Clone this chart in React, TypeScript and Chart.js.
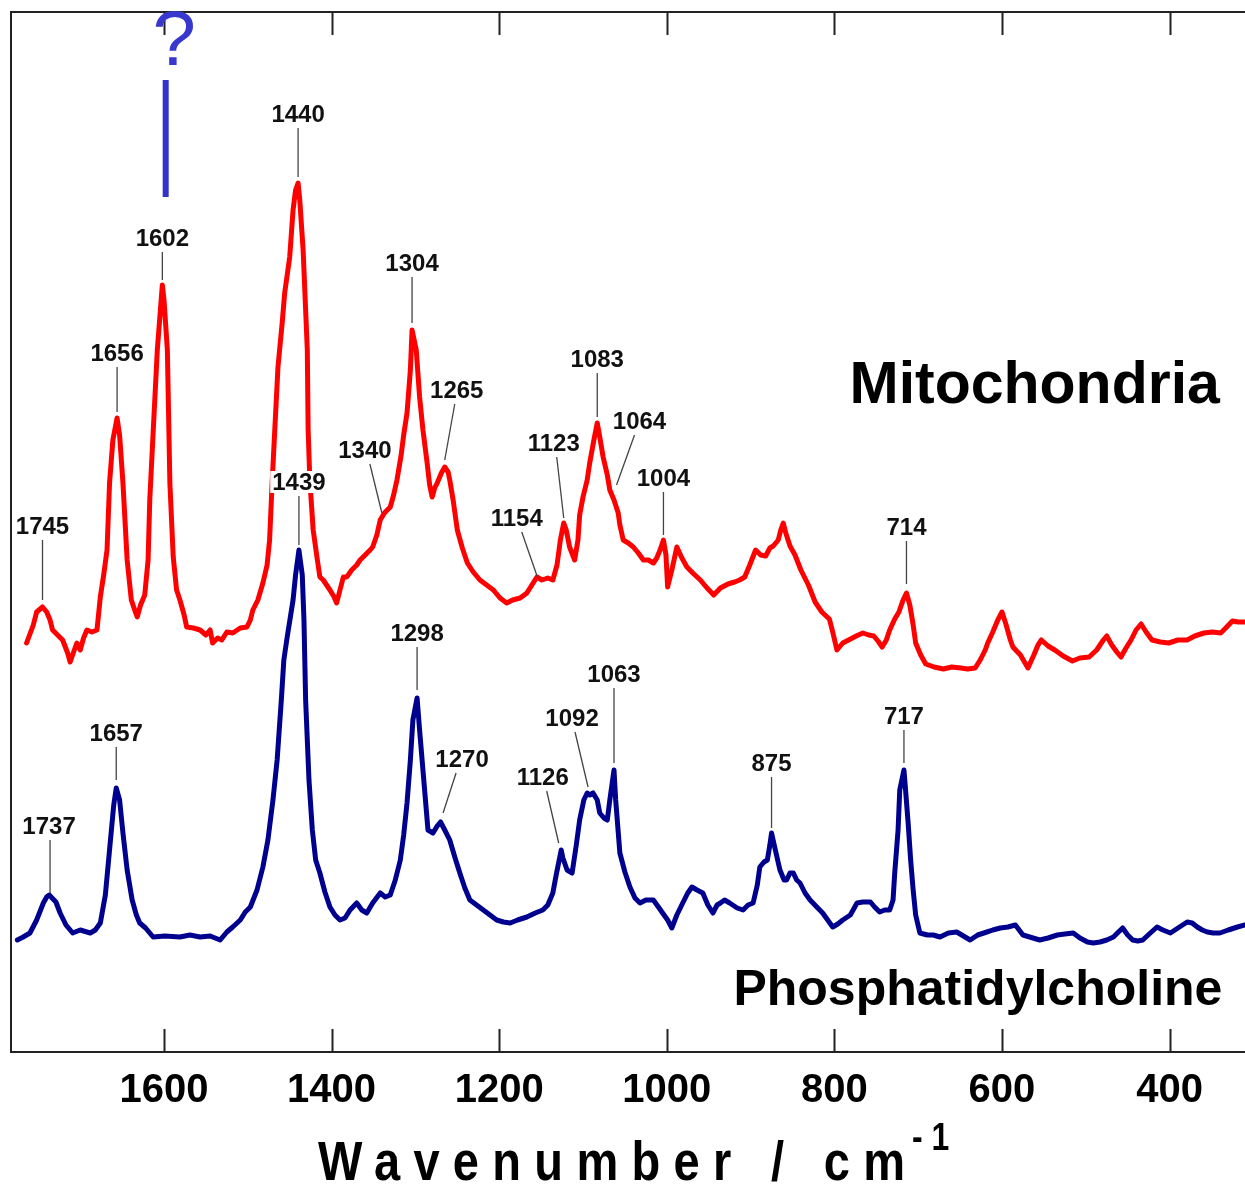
import React, { useEffect, useRef } from 'react';
import { Chart, registerables } from 'chart.js';

Chart.register(...registerables);

// ---------- Data (wavenumber in cm-1, intensity in arbitrary units) ----------
const RED_WN = [1764,1756,1752,1745,1740,1736,1733,1727,1721,1715,1712,1707,1704,1700,1696,1692,1686,1680,1676,1672,1668,1665,1661,1656,1653,1649,1644,1639,1635,1632,1628,1623,1619,1617,1613,1608,1602,1600,1596,1593,1589,1585,1581,1576,1573,1565,1557,1550,1545,1542,1536,1531,1525,1518,1509,1501,1497,1494,1488,1482,1477,1474,1471,1468,1464,1459,1456,1450,1446,1443,1440,1438,1434,1429,1428,1426,1422,1417,1414,1410,1406,1402,1397,1394,1390,1386,1382,1376,1370,1366,1360,1354,1351,1346,1342,1337,1330,1326,1322,1317,1314,1310,1306,1304,1299,1295,1291,1286,1283,1280,1277,1274,1269,1265,1261,1259,1255,1250,1244,1238,1231,1223,1215,1207,1199,1191,1184,1175,1167,1161,1155,1149,1142,1136,1131,1127,1123,1120,1116,1110,1106,1104,1100,1095,1092,1087,1083,1080,1076,1071,1068,1063,1058,1056,1052,1046,1040,1034,1028,1022,1016,1012,1008,1004,1001,999,994,988,982,976,969,960,952,944,936,927,919,913,907,901,894,888,882,877,873,867,864,861,858,853,847,840,831,823,815,806,802,797,790,783,774,766,759,753,748,743,738,734,728,723,718,714,710,706,703,697,691,681,670,660,649,641,632,626,620,617,611,605,600,595,590,587,578,569,562,557,553,545,537,527,516,507,496,487,479,475,469,463,458,452,446,440,434,428,421,411,401,390,379,370,359,349,339,333,325,318,310];
const RED_I = [409,427,440,445,440,432,422,417,412,399,390,402,409,402,414,422,420,422,455,477,502,569,612,634,617,569,492,452,442,435,447,457,492,552,619,702,767,752,702,569,495,462,452,437,425,424,422,417,422,409,414,412,420,419,424,425,432,442,452,469,487,512,569,619,685,729,759,795,842,862,869,852,802,702,622,572,522,492,475,472,467,462,455,449,462,475,475,482,487,492,497,502,505,517,532,539,545,557,572,597,617,639,682,722,702,655,622,589,567,555,564,569,579,585,580,572,552,522,504,489,480,472,467,462,454,449,452,454,459,467,475,472,474,472,487,512,529,522,505,492,512,537,555,572,589,612,629,615,595,577,562,552,539,527,512,509,505,499,492,492,489,494,502,512,497,465,482,505,494,485,479,472,464,457,464,468,470,472,475,487,502,497,496,504,506,512,522,529,519,506,497,482,467,450,440,433,420,402,409,412,416,419,417,416,411,405,412,422,433,440,452,459,447,427,409,397,388,385,383,385,384,383,384,392,402,409,420,432,440,427,412,405,397,384,397,407,412,406,402,396,391,394,395,402,412,416,407,400,395,404,412,422,428,420,412,410,409,412,412,416,419,420,419,424,431,430,430];

const BLUE_WN = [1775,1768,1760,1752,1744,1740,1737,1729,1724,1717,1709,1700,1688,1682,1676,1670,1665,1660,1657,1653,1649,1644,1638,1633,1629,1622,1613,1599,1581,1569,1557,1545,1533,1525,1518,1509,1503,1497,1489,1482,1476,1470,1465,1460,1457,1453,1446,1443,1439,1435,1433,1431,1427,1423,1419,1414,1408,1402,1396,1390,1384,1378,1370,1364,1358,1351,1342,1336,1330,1324,1318,1314,1310,1306,1303,1298,1295,1291,1287,1285,1279,1274,1270,1265,1259,1253,1247,1241,1235,1227,1219,1211,1203,1195,1187,1178,1167,1157,1148,1142,1136,1132,1126,1124,1119,1113,1108,1104,1099,1095,1092,1088,1083,1080,1075,1071,1068,1063,1061,1056,1050,1044,1038,1032,1025,1016,1010,1005,999,994,988,981,975,970,964,957,951,945,940,936,931,925,916,909,903,897,892,889,884,880,877,875,871,865,860,857,853,849,845,841,835,829,821,814,808,802,796,790,781,773,766,757,752,746,740,734,730,728,724,722,717,716,712,709,706,703,698,689,682,674,664,654,646,638,629,618,611,602,593,584,575,567,555,545,534,525,515,507,498,491,483,475,467,461,456,450,444,438,432,423,415,408,399,390,379,373,367,361,355,348,340,330,319,310];
const BLUE_I = [112,115,119,132,149,155,157,150,139,127,119,122,119,122,129,157,202,247,264,252,219,182,152,137,129,124,115,116,115,117,115,116,112,120,125,132,140,145,162,185,212,252,292,352,392,415,452,477,502,477,432,352,272,222,192,179,160,145,137,132,134,142,149,142,139,149,159,155,157,172,192,217,249,292,332,354,322,282,242,222,219,226,230,222,212,195,179,164,152,147,142,137,132,130,129,132,135,139,142,147,159,177,202,194,182,179,207,232,252,259,257,259,252,239,234,232,252,282,252,199,180,165,154,149,152,152,145,139,132,124,137,149,159,165,162,159,147,139,147,149,152,149,144,142,147,149,167,185,190,192,207,219,204,182,172,172,179,179,172,169,159,152,145,139,132,125,128,132,137,149,150,150,145,140,142,142,152,179,222,262,282,272,229,192,162,137,119,117,117,115,119,120,116,112,117,120,122,124,125,127,117,115,112,114,117,118,119,114,110,109,110,112,115,120,124,117,112,111,112,119,125,122,119,124,130,129,125,122,120,119,119,122,125,127];

const X_TICKS = [1600, 1400, 1200, 1000, 800, 600, 400];

const RED_PEAK_TEXT = ['1745', '1656', '1602', '1440', '1340', '1304', '1265', '1154', '1123', '1083', '1064', '1004', '714'];
const RED_PEAK_WN = [1745, 1656, 1602, 1440, 1340, 1304, 1265, 1154, 1123, 1083, 1060, 1004, 714];
const RED_PEAK_I = [452, 640, 772, 875, 539, 729, 592, 474, 534, 635, 567, 517, 468];

const BLUE_PEAK_TEXT = ['1737', '1657', '1439', '1298', '1270', '1126', '1092', '1063', '875', '717'];
const BLUE_PEAK_WN = [1736, 1657, 1439, 1298, 1267, 1129, 1094, 1063, 875, 717];
const BLUE_PEAK_I = [159, 272, 507, 362, 239, 209, 265, 289, 224, 289];

// ---------- Layout / style (pixel offsets of label leaders) ----------
const RED_LABEL_OFFSETS = [[0, -60, 0], [0, -45, 0], [0, -28, 0], [0, -49, 0], [-12, -49, -5], [0, -46, 0], [10, -56, 2], [-16, -46, -5], [-7, -61, -3], [0, -44, 0], [18, -50, 5], [0, -43, 0], [0, -43, 0]];
const BLUE_LABEL_OFFSETS = [[0, -53, -1], [0, -33, 0], [0, -49, 0], [0, -43, 0], [13, -40, 6], [-12, -52, -4], [-13, -55, -3], [0, -75, 0], [0, -51, 0], [0, -33, 0]];

const SANS = '"Liberation Sans", Arial, Helvetica, sans-serif';

const MARK_WN = 1598;
const MARK_I = [972, 855];
const QMARK_WN = 1588;
const QMARK_I = 987;

const decorPlugin = {
  id: 'decor',
  beforeDatasetsDraw(chart: any) {
    const { ctx, chartArea: a, scales } = chart;
    const x = scales.x;
    ctx.save();
    ctx.strokeStyle = '#222';
    ctx.lineWidth = 2;
    ctx.beginPath();
    ctx.moveTo(a.left, a.top);
    ctx.lineTo(a.right + 2, a.top);
    ctx.moveTo(a.left, a.top - 1);
    ctx.lineTo(a.left, a.bottom + 1);
    ctx.moveTo(a.left - 1, a.bottom);
    ctx.lineTo(a.right + 2, a.bottom);
    for (const t of x.ticks) {
      const px = Math.round(x.getPixelForValue(t.value)) + 0.5;
      ctx.moveTo(px, a.top);
      ctx.lineTo(px, a.top + 23);
      ctx.moveTo(px, a.bottom);
      ctx.lineTo(px, a.bottom - 23);
    }
    ctx.stroke();
    ctx.restore();
  },
  afterDatasetsDraw(chart: any) {
    const { ctx, scales } = chart;
    const x = scales.x;
    const y = scales.y;
    ctx.save();

    const drawLabels = (texts: string[], wns: number[], vals: number[], offs: number[][]) => {
      ctx.font = `bold 24px ${SANS}`;
      ctx.textAlign = 'center';
      ctx.textBaseline = 'middle';
      texts.forEach((txt, i) => {
        const bx = x.getPixelForValue(wns[i]);
        const by = y.getPixelForValue(vals[i]);
        const [dx, dy, sx] = offs[i];
        const tx = bx + dx;
        const ty = by + dy;
        ctx.strokeStyle = '#444';
        ctx.lineWidth = 1.3;
        ctx.beginPath();
        ctx.moveTo(bx, by);
        ctx.lineTo(tx, ty);
        ctx.stroke();
        const cx = tx + sx;
        const cy = ty - 14;
        const w = ctx.measureText(txt).width;
        ctx.fillStyle = '#ffffff';
        ctx.fillRect(cx - w / 2 - 2, cy - 11, w + 4, 22);
        ctx.fillStyle = '#111';
        ctx.fillText(txt, cx, cy + 1);
      });
    };
    drawLabels(RED_PEAK_TEXT, RED_PEAK_WN, RED_PEAK_I, RED_LABEL_OFFSETS);
    drawLabels(BLUE_PEAK_TEXT, BLUE_PEAK_WN, BLUE_PEAK_I, BLUE_LABEL_OFFSETS);

    // Series names
    ctx.fillStyle = '#000';
    ctx.textAlign = 'right';
    ctx.textBaseline = 'alphabetic';
    ctx.font = `bold 59px ${SANS}`;
    ctx.fillText('Mitochondria', x.getPixelForValue(340), y.getPixelForValue(649));
    ctx.font = `bold 50px ${SANS}`;
    ctx.fillText('Phosphatidylcholine', x.getPixelForValue(337), y.getPixelForValue(47));

    // Blue marker with question mark
    const mx = x.getPixelForValue(MARK_WN);
    ctx.strokeStyle = '#3333cc';
    ctx.lineWidth = 6;
    ctx.beginPath();
    ctx.moveTo(mx, y.getPixelForValue(MARK_I[0]));
    ctx.lineTo(mx, y.getPixelForValue(MARK_I[1]));
    ctx.stroke();
    ctx.fillStyle = '#3838cf';
    ctx.textAlign = 'center';
    ctx.font = `78px ${SANS}`;
    ctx.fillText('?', x.getPixelForValue(QMARK_WN), y.getPixelForValue(QMARK_I));

    ctx.restore();
  },
  afterDraw(chart: any) {
    const { ctx, chartArea: a } = chart;
    const squeeze = 0.84;
    ctx.save();
    ctx.fillStyle = '#000';
    ctx.textAlign = 'left';
    ctx.textBaseline = 'alphabetic';
    ctx.font = `bold 56px ${SANS}`;
    const title = 'Wavenumber / cm';
    const startX = a.left + 307;
    const targetW = 587;
    const baseY = a.bottom + 128;
    const plain = ctx.measureText(title).width;
    const n = title.length;
    const spacing = (targetW / squeeze - plain) / (n - 1);
    ctx.translate(startX, baseY);
    ctx.scale(squeeze, 1);
    if ('letterSpacing' in ctx) {
      (ctx as any).letterSpacing = `${spacing}px`;
      ctx.fillText(title, 0, 0);
      (ctx as any).letterSpacing = '0px';
    } else {
      let cx = 0;
      for (const ch of title) {
        ctx.fillText(ch, cx, 0);
        cx += ctx.measureText(ch).width + spacing;
      }
    }
    ctx.font = `bold 38px ${SANS}`;
    ctx.fillText('- 1', (targetW + 7) / squeeze, -30);
    ctx.restore();
  },
};

export default function App() {
  const canvasRef = useRef<HTMLCanvasElement | null>(null);

  useEffect(() => {
    document.body.style.margin = '0';
    const canvas = canvasRef.current;
    if (!canvas) return;
    const chart = new Chart(canvas, {
      type: 'line',
      data: {
        datasets: [
          {
            label: 'Mitochondria',
            data: RED_WN.map((w, i) => ({ x: w, y: RED_I[i] })),
            borderColor: '#ff0000',
            borderWidth: 5,
            pointRadius: 0,
            tension: 0,
            fill: false,
            borderJoinStyle: 'round',
            borderCapStyle: 'round',
          },
          {
            label: 'Phosphatidylcholine',
            data: BLUE_WN.map((w, i) => ({ x: w, y: BLUE_I[i] })),
            borderColor: '#00008f',
            borderWidth: 5,
            pointRadius: 0,
            tension: 0,
            fill: false,
            borderJoinStyle: 'round',
            borderCapStyle: 'round',
          },
        ],
      },
      options: {
        responsive: false,
        animation: false,
        devicePixelRatio: 1,
        events: [],
        layout: { padding: { left: 11, top: 12, right: 0, bottom: 59 } },
        plugins: {
          legend: { display: false },
          tooltip: { enabled: false },
          title: { display: false },
        },
        scales: {
          x: {
            type: 'linear',
            reverse: true,
            min: 310,
            max: 1782.6,
            afterBuildTicks: (scale: any) => {
              scale.ticks = X_TICKS.map((v) => ({ value: v }));
            },
            grid: { display: false, drawTicks: false },
            border: { display: false },
            ticks: {
              autoSkip: false,
              maxRotation: 0,
              padding: 19,
              color: '#000',
              font: { family: SANS, size: 40, weight: 'bold', lineHeight: 1 },
              callback: (v: any) => String(v),
            },
          },
          y: {
            display: false,
            min: 0,
            max: 1040,
          },
        },
      },
      plugins: [decorPlugin],
    } as any);
    return () => chart.destroy();
  }, []);

  return (
    <div style={{ width: 1245, height: 1189, background: '#fff' }}>
      <canvas ref={canvasRef} width={1245} height={1189} style={{ display: 'block' }} />
    </div>
  );
}
